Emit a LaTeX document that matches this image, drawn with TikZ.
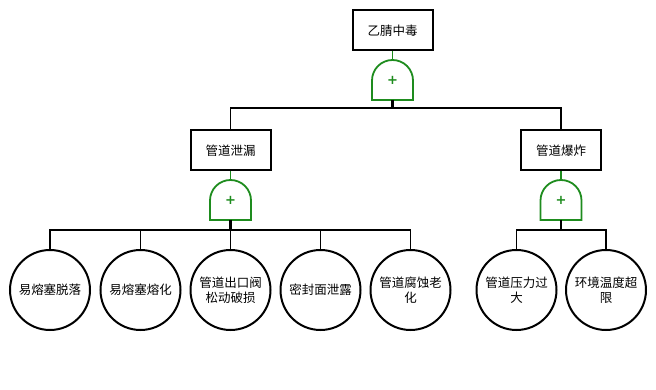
\documentclass[tikz,border=0pt]{standalone}
\usepackage{fontspec}
\newfontfamily\cjk{Noto Sans CJK SC}
\newfontfamily\plusfont{DejaVu Sans}
\definecolor{gatecol}{RGB}{30,140,30}
\begin{document}
\begin{tikzpicture}[x=1pt,y=1pt,
  evbox/.style={draw=black,line width=2pt,minimum width=80pt,minimum height=40pt,inner sep=0pt,font=\cjk\fontsize{12.5}{14}\selectfont},
  basic/.style={draw=black,circle,line width=2pt,minimum size=80pt,inner sep=0pt,align=center,text width=66pt,font=\cjk\fontsize{12.5}{14.5}\selectfont},
  link/.style={draw=black,line width=1.8pt},
  glink/.style={draw=gatecol,line width=1.8pt},
  gatebody/.style={draw=gatecol,line width=1.8pt,fill=white},
  plus/.style={text=gatecol,font=\plusfont\bfseries\fontsize{13}{13}\selectfont,inner sep=0pt}
]
\useasboundingbox (0,0) rectangle (656,-390);
% top event
\node[evbox] (top) at (392.5,-30.5) {乙腈中毒};
% gates
\newcommand{\orgate}[3]{% name, cx, top y
  \draw[gatebody] (#2-20.5,#3-40) -- (#2-20.5,#3-20.5) arc (180:0:20.5) -- (#2+20.5,#3-40) -- cycle;
  \coordinate (#1top) at (#2,#3);
  \coordinate (#1bot) at (#2,#3-40);
  \node[plus] (#1) at (#2,#3-20.5) {+};
}
\orgate{ga}{392.5}{-60}
\node[evbox] (leak) at (230.5,-150.5) {管道泄漏};
\node[evbox] (expl) at (561,-150.5) {管道爆炸};
\orgate{gb}{230.5}{-180}
\orgate{gc}{561}{-180}
% basic events
\node[basic] (b1) at (50,-290) {易熔塞脱落};
\node[basic] (b2) at (140.5,-290) {易熔塞熔化};
\node[basic] (b3) at (230.5,-290) {管道出口阀\\松动破损};
\node[basic] (b4) at (320.5,-290) {密封面泄露};
\node[basic] (b5) at (410.5,-290) {管道腐蚀老\\化};
\node[basic] (b6) at (516.5,-290) {管道压力过\\大};
\node[basic] (b7) at (606,-290) {环境温度超\\限};
% connectors
\draw[glink] (top.south) -- (gatop);
\draw[glink] (leak.south) -- (gbtop);
\draw[glink] (expl.south) -- (gctop);
\coordinate (busa) at (392.5,-108);
\coordinate (busb) at (230.5,-230);
\coordinate (busc) at (561,-230);
\draw[link,line width=2.5pt] (gabot) -- (busa);
\draw[link,line width=2.5pt] (gbbot) -- (busb);
\draw[link,line width=2.5pt] (gcbot) -- (busc);
\draw[link] (busa) -| (leak.north);
\draw[link] (busa) -| (expl.north);
\foreach \b in {b1,b2,b3,b4,b5} \draw[link] (busb) -| (\b.north);
\foreach \b in {b6,b7} \draw[link] (busc) -| (\b.north);
\end{tikzpicture}
\end{document}
